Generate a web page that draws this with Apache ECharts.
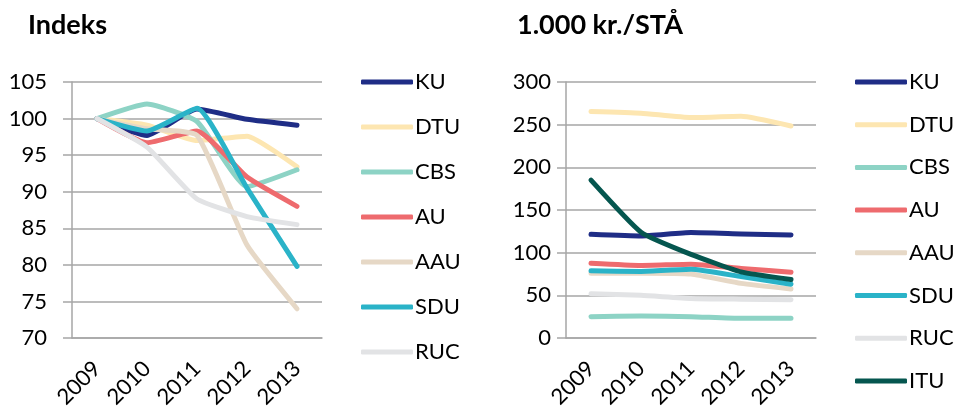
<!DOCTYPE html>
<html>
<head>
<meta charset="utf-8">
<script src="https://cdn.jsdelivr.net/npm/echarts@6/dist/echarts.min.js"></script>
<style>
  html, body { margin: 0; padding: 0; background: #fff; }
  #chart { width: 970px; height: 407px; }
</style>
</head>
<body>
<div id="chart"></div>
<script>
const years = ["2009", "2010", "2011", "2012", "2013"];

// Indeks (2009 = 100)
const idxKU  = [100, 97.7, 101.3, 99.9, 99.1];
const idxDTU = [100, 99.1, 97.0, 97.6, 93.4];
const idxCBS = [100, 102.0, 99.6, 90.7, 93.0];
const idxAU  = [100, 96.7, 98.3, 92.0, 88.0];
const idxAAU = [100, 98.6, 97.7, 82.7, 74.0];
const idxSDU = [100, 98.3, 101.4, 90.5, 79.8];
const idxRUC = [100, 96.1, 89.0, 86.6, 85.5];

// 1.000 kr./STÅ
const kKU  = [121.5, 119.5, 123.5, 122, 120.8];
const kDTU = [265.5, 263.5, 258.3, 259.8, 248.5];
const kCBS = [25, 25.7, 25, 23, 23];
const kAU  = [87.6, 85, 86.5, 81.5, 77];
const kAAU = [76, 76, 75, 64, 57.5];
const kSDU = [78.7, 78, 80.5, 72, 63];
const kRUC = [52, 50, 46.4, 45.5, 44.8];
const kITU = [185, 124, 98, 77.5, 68.5];

const leftNames = ["KU", "DTU", "CBS", "AU", "AAU", "SDU", "RUC"];
const leftData = [idxKU, idxDTU, idxCBS, idxAU, idxAAU, idxSDU, idxRUC];
const rightNames = ["KU", "DTU", "CBS", "AU", "AAU", "SDU", "RUC", "ITU"];
const rightData = [kKU, kDTU, kCBS, kAU, kAAU, kSDU, kRUC, kITU];

const colors = {
  KU: "#1f2d86", DTU: "#fde6b1", CBS: "#8dd3c5", AU: "#ee6b6e",
  AAU: "#e6d8c6", SDU: "#2ab3c8", RUC: "#e2e3e5", ITU: "#05564f"
};

const font = "Lato";
const gray = "#a6a6a6";

function xAxis(gridIndex) {
  return {
    type: "category",
    gridIndex: gridIndex,
    data: years,
    boundaryGap: true,
    axisLine: { lineStyle: { color: gray, width: 1.5 } },
    axisTick: { length: 9, lineStyle: { color: gray, width: 1.5 } },
    axisLabel: { rotate: 45, margin: 27, color: "#000", fontSize: 22, fontFamily: font }
  };
}

function yAxis(gridIndex, max, interval, margin) {
  return {
    type: "value",
    gridIndex: gridIndex,
    min: gridIndex === 0 ? 70 : 0,
    max: max,
    interval: interval,
    axisLine: { show: true, lineStyle: { color: gray, width: 1.5 } },
    axisTick: { show: true, length: 9, lineStyle: { color: gray, width: 1.5 } },
    splitLine: { lineStyle: { color: gray, width: 1.5 } },
    axisLabel: { margin: margin, color: "#000", fontSize: 22, fontFamily: font }
  };
}

function lineSeries(name, data, idx) {
  return {
    name: name,
    type: "line",
    xAxisIndex: idx,
    yAxisIndex: idx,
    data: data,
    symbol: "none",
    smooth: 0.15,
    lineStyle: { width: 5, color: colors[name], cap: "round", join: "round" },
    itemStyle: { color: colors[name] }
  };
}

function legend(left, names, gap) {
  return {
    orient: "vertical",
    left: left,
    top: 71,
    padding: 0,
    data: names,
    icon: "roundRect",
    itemWidth: 52,
    itemHeight: 5,
    itemGap: gap,
    textStyle: { fontSize: 22, fontFamily: font, color: "#000", lineHeight: 22, padding: [0, 0, 0, -3] }
  };
}

const series = [];
leftNames.forEach((n, i) => series.push(lineSeries(n, leftData[i], 0)));
rightNames.forEach((n, i) => series.push(lineSeries(n, rightData[i], 1)));

const chart = echarts.init(document.getElementById("chart"));
chart.setOption({
  animation: false,
  title: [
    { text: "Indeks", left: 28, top: 12, padding: 0, textStyle: { fontSize: 27, fontWeight: "bold", fontFamily: font, color: "#000" } },
    { text: "1.000 kr./STÅ", left: 517, top: 12, padding: 0, textStyle: { fontSize: 27, fontWeight: "bold", fontFamily: font, color: "#000" } }
  ],
  legend: [
    legend(361, leftNames, 23),
    legend(855, rightNames, 20.7)
  ],
  grid: [
    { left: 72, top: 82, width: 250, height: 256, outerBoundsMode: "none" },
    { left: 566, top: 82, width: 250, height: 256, outerBoundsMode: "none" }
  ],
  xAxis: [xAxis(0), xAxis(1)],
  yAxis: [yAxis(0, 105, 5, 25), yAxis(1, 300, 50, 15)],
  series: series
});
</script>
</body>
</html>
